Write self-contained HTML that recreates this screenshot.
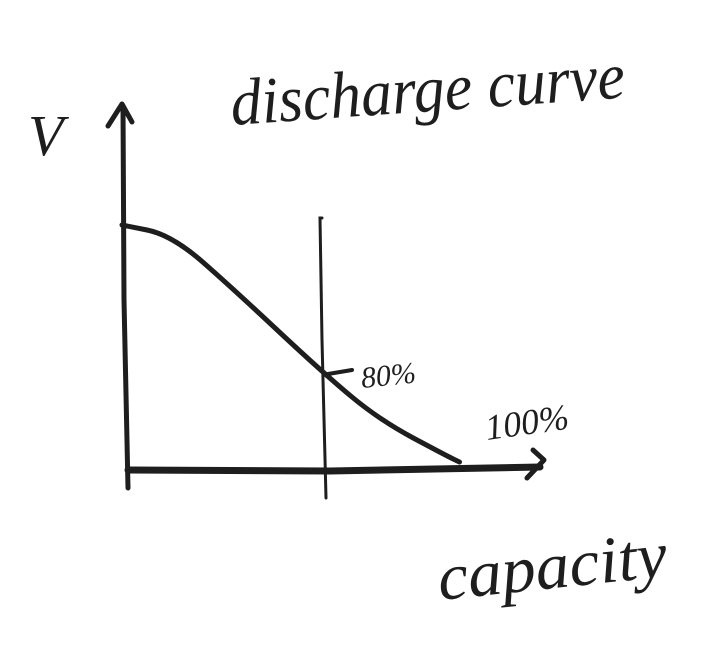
<!DOCTYPE html>
<html><head><meta charset="utf-8"><style>
html,body{margin:0;padding:0;background:#fff;}
svg{display:block;}
text{font-family:"Liberation Serif",serif;font-style:italic;fill:#1e1e1e;}
</style></head><body>
<svg id="chart" width="718" height="672" viewBox="0 0 718 672" xmlns="http://www.w3.org/2000/svg">
  <text x="232" y="125" font-size="66" transform="rotate(-4 232 125)" textLength="395" lengthAdjust="spacingAndGlyphs">discharge curve</text>
  <text x="28" y="155" font-size="58">V</text>
  <path d="M128 488 L124 300 L123 106" stroke="#1e1e1e" stroke-width="5" fill="none" stroke-linecap="round"/>
  <path d="M108 126 L122 104 L132 122" stroke="#1e1e1e" stroke-width="5" fill="none" stroke-linecap="round" stroke-linejoin="round"/>
  <path d="M128 470 L330 471 L540 467" stroke="#1e1e1e" stroke-width="7" fill="none" stroke-linecap="round"/>
  <path d="M533 450 L544 460 L527 478" stroke="#1e1e1e" stroke-width="5" fill="none" stroke-linecap="round" stroke-linejoin="round"/>
  <path d="M322 218 L320 218 L322 340 L326 498" stroke="#1e1e1e" stroke-width="3" fill="none" stroke-linecap="round"/>
  <path d="M328 374 L352 370" stroke="#1e1e1e" stroke-width="4" fill="none" stroke-linecap="round"/>
  <text x="362" y="388" font-size="30" transform="rotate(-6 362 388)">80%</text>
  <text x="487" y="440" font-size="36" transform="rotate(-8 487 440)">100%</text>
  <text x="440" y="600" font-size="66" transform="rotate(-6 440 600)" textLength="230" lengthAdjust="spacingAndGlyphs">capacity</text>
  <g id="series"></g>
</svg>
<script>
const capacity = [0, 20, 45, 80, 103, 130, 135];
const voltage = [245, 235, 180, 98, 50, 14, 8];
function xScale(c){ return 122 + c * 2.5; }
function yScale(v){ return 470 - v; }
const g = document.getElementById('series');
let d = '';
for (let i = 0; i < capacity.length; i++) {
  const x = xScale(capacity[i]), y = yScale(voltage[i]);
  if (i === 0) d += 'M' + x + ' ' + y;
  else {
    const px = xScale(capacity[i-1]), py = yScale(voltage[i-1]);
    d += ' Q' + px + ' ' + py + ' ' + ((px + x) / 2) + ' ' + ((py + y) / 2);
  }
}
d += ' L' + xScale(capacity[capacity.length-1]) + ' ' + yScale(voltage[voltage.length-1]);
const p = document.createElementNS('http://www.w3.org/2000/svg', 'path');
p.setAttribute('d', d);
p.setAttribute('stroke', '#1e1e1e');
p.setAttribute('stroke-width', '5');
p.setAttribute('fill', 'none');
p.setAttribute('stroke-linecap', 'round');


g.appendChild(p);
</script>
</body></html>
